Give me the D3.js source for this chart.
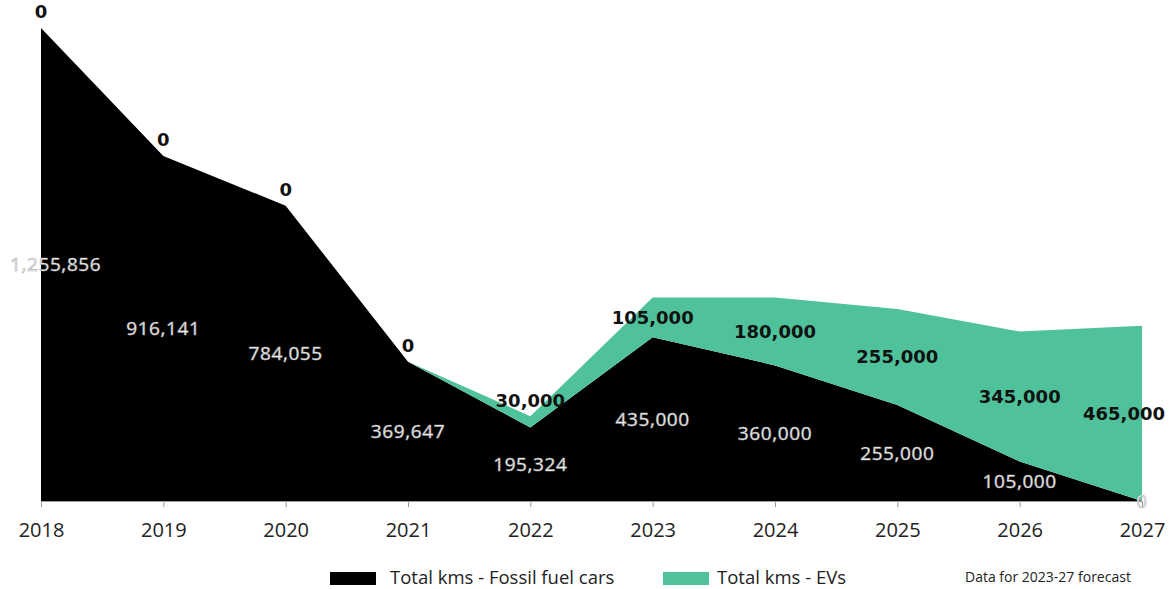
<!DOCTYPE html>
<html>
<head>
<meta charset="utf-8">
<script src="https://cdn.jsdelivr.net/npm/d3@7"></script>
<style>
  html, body { margin: 0; padding: 0; background: #fff; }
  svg { display: block; }
</style>
</head>
<body>
<svg id="chart" width="1172" height="589"></svg>
<script>
const years = [2018, 2019, 2020, 2021, 2022, 2023, 2024, 2025, 2026, 2027];
const fossil = [1255856, 916141, 784055, 369647, 195324, 435000, 360000, 255000, 105000, 0];
const evs = [0, 0, 0, 0, 30000, 105000, 180000, 255000, 345000, 465000];
const seriesNames = ["Total kms - Fossil fuel cars", "Total kms - EVs"];
const seriesColors = ["#000000", "#4fc29b"];
const note = "Data for 2023-27 forecast";

const svg = d3.select("#chart");

const rows = years.map((yr, i) => ({ year: yr, fossil: fossil[i], evs: evs[i] }));
const stacked = d3.stack().keys(["fossil", "evs"])(rows);

const x = d3.scalePoint().domain(years).range([41, 1142]);
const y = d3.scaleLinear().domain([0, d3.max(fossil)]).range([501, 28]);

const area = d3.area()
  .x(d => x(d.data.year))
  .y0(d => y(d[0]))
  .y1(d => y(d[1]))
  .curve(d3.curveLinear);

// Axis (drawn first so areas cover the baseline)
const axis = d3.axisBottom(x).tickSize(6).tickSizeOuter(0).tickPadding(16).tickFormat(d => String(d));
const gx = svg.append("g").attr("transform", "translate(0,501)").call(axis);
gx.select(".domain").attr("stroke", "#9a9a9a");
gx.selectAll(".tick line").attr("stroke", "#9a9a9a");
gx.selectAll(".tick text")
  .attr("fill", "#222")
  .style("font-family", "'Open Sans', sans-serif")
  .style("font-size", "20px");

svg.append("g").selectAll("path")
  .data(stacked)
  .join("path")
  .attr("d", area)
  .attr("fill", (d, i) => seriesColors[i]);

// Labels
const labelG = svg.append("g");
function clampX(cx, w) {
  return Math.max(10 + w / 2, Math.min(1165 - w / 2, cx));
}

// Fossil labels: centered in their segment
stacked[0].forEach((d, i) => {
  const t = labelG.append("text")
    .text(d3.format(",")(fossil[i]))
    .attr("text-anchor", "middle")
    .attr("dy", "0.36em")
    .attr("fill", "#ffffff")
    .attr("stroke", "#a8a8a8")
    .attr("stroke-width", 0.6)
    .style("font-family", "'Open Sans', sans-serif")
    .style("font-size", "19px")
    .style("letter-spacing", "0.6px")
    .attr("y", (y(d[0]) + y(d[1])) / 2);
  const w = t.node().getComputedTextLength();
  t.attr("x", clampX(x(d.data.year), w));
});

// EV labels: centered in segment if it fits, otherwise above the top
stacked[1].forEach((d, i) => {
  const top = y(d[1]), bot = y(d[0]);
  const cy = (bot - top) > 18 ? (top + bot) / 2 : top - 16;
  const t = labelG.append("text")
    .text(d3.format(",")(evs[i]))
    .attr("text-anchor", "middle")
    .attr("dy", "0.36em")
    .attr("fill", "#111")
    .style("font-family", "'DejaVu Sans', sans-serif")
    .style("font-weight", "bold")
    .style("font-size", "18px")
    .attr("y", cy);
  const w = t.node().getComputedTextLength();
  t.attr("x", clampX(x(d.data.year), w));
});

// Legend
const legendItems = [
  { name: seriesNames[0], color: seriesColors[0], rx: 330, tx: 390 },
  { name: seriesNames[1], color: seriesColors[1], rx: 663, tx: 717 }
];
const lg = svg.append("g");
legendItems.forEach(it => {
  lg.append("rect").attr("x", it.rx).attr("y", 572).attr("width", 46).attr("height", 13).attr("fill", it.color);
  lg.append("text").attr("x", it.tx).attr("y", 584)
    .text(it.name)
    .attr("fill", "#222")
    .style("font-family", "'Open Sans', sans-serif")
    .style("font-size", "18.5px");
});
svg.append("text").attr("x", 965).attr("y", 582)
  .text(note)
  .attr("fill", "#222")
  .style("font-family", "'Open Sans', sans-serif")
  .style("font-size", "14px");
</script>
</body>
</html>
